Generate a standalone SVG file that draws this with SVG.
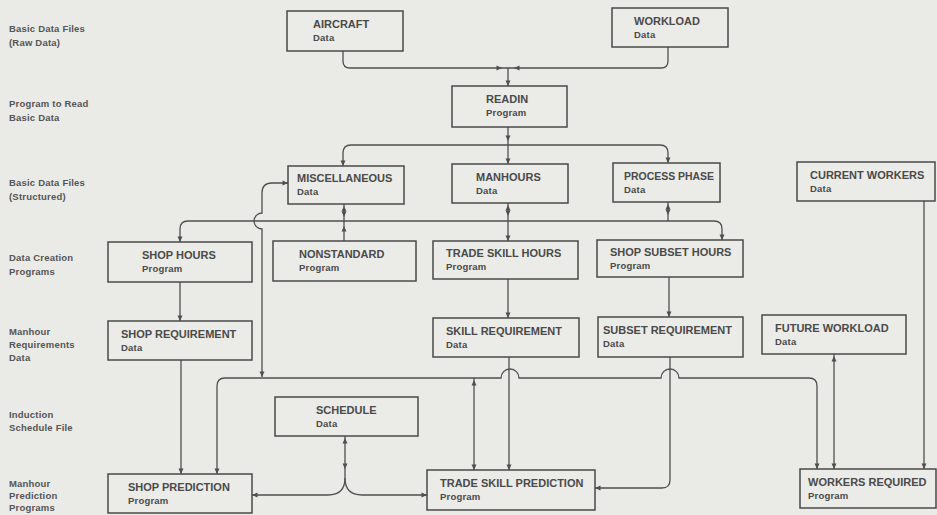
<svg xmlns="http://www.w3.org/2000/svg" xmlns:xlink="http://www.w3.org/1999/xlink" width="937" height="515" viewBox="0 0 937 515">
<defs>
<style>
.bg{fill:#eaeae6}
.box{fill:#ebebe7;stroke:#4a4a4a;stroke-width:1.5}
.t{font-family:"Liberation Sans",Arial,sans-serif;font-weight:bold;font-size:11px;fill:#4a4a4a}
.s{font-family:"Liberation Sans",Arial,sans-serif;font-weight:bold;font-size:9.5px;fill:#4a4a4a;letter-spacing:0.2px}
.lab{font-family:"Liberation Sans",Arial,sans-serif;font-weight:bold;font-size:9.5px;fill:#555;letter-spacing:0.2px}
.ln{fill:none;stroke:#4f4f4f;stroke-width:1.3}
.ah{fill:#4f4f4f}
</style>
<path id="aD" class="ah" d="M-2.5,-5.5 L2.5,-5.5 L0,0 Z"/>
<path id="aU" class="ah" d="M-2.5,5.5 L2.5,5.5 L0,0 Z"/>
<path id="aR" class="ah" d="M-5.5,-2.5 L-5.5,2.5 L0,0 Z"/>
<path id="aL" class="ah" d="M5.5,-2.5 L5.5,2.5 L0,0 Z"/>
</defs>
<rect class="bg" x="0" y="0" width="937" height="515"/>

<g id="labels">
<text class="lab" x="9" y="32">Basic Data Files</text>
<text class="lab" x="9" y="46">(Raw Data)</text>
<text class="lab" x="9" y="107">Program to Read</text>
<text class="lab" x="9" y="121">Basic Data</text>
<text class="lab" x="9" y="186">Basic Data Files</text>
<text class="lab" x="9" y="200">(Structured)</text>
<text class="lab" x="9" y="261">Data Creation</text>
<text class="lab" x="9" y="275">Programs</text>
<text class="lab" x="9" y="335">Manhour</text>
<text class="lab" x="9" y="348">Requirements</text>
<text class="lab" x="9" y="361">Data</text>
<text class="lab" x="9" y="418">Induction</text>
<text class="lab" x="9" y="431">Schedule File</text>
<text class="lab" x="9" y="487">Manhour</text>
<text class="lab" x="9" y="499">Prediction</text>
<text class="lab" x="9" y="511">Programs</text>
</g>

<g id="connectors">
<!-- raw data to READIN -->
<path class="ln" d="M343,51 V61 Q343,68 350,68 H661 Q668,68 668,61 V47"/>
<path class="ln" d="M508,68 V86"/>
<use href="#aR" x="502" y="68"/>
<use href="#aL" x="514" y="68"/>
<use href="#aD" x="508" y="86"/>
<!-- READIN to structured files -->
<path class="ln" d="M343,166 V153 Q343,145 351,145 H660 Q668,145 668,153 V163"/>
<path class="ln" d="M508,127 V164"/>
<use href="#aD" x="508" y="141"/>
<use href="#aD" x="343" y="166"/>
<use href="#aD" x="508" y="164"/>
<use href="#aD" x="668" y="163"/>
<!-- bus y 221 -->
<path class="ln" d="M180,242 V229 Q180,221 188,221 H714 Q722,221 722,229 V240"/>
<use href="#aD" x="180" y="242"/>
<use href="#aD" x="722" y="240"/>
<path class="ln" d="M344,204 V241"/>
<use href="#aU" x="344" y="206"/>
<use href="#aD" x="344" y="217"/>
<use href="#aU" x="344" y="226"/>
<path class="ln" d="M508,203 V241"/>
<use href="#aU" x="508" y="205"/>
<use href="#aD" x="508" y="216"/>
<use href="#aD" x="508" y="241"/>
<path class="ln" d="M668,202 V221"/>
<use href="#aU" x="668" y="204"/>
<use href="#aD" x="668" y="215"/>
<!-- misc side line -->
<path class="ln" d="M262,377 V229 A8,8 0 0 1 262,213 V193 Q262,183 272,183 H288"/>
<use href="#aR" x="288" y="183"/>
<use href="#aD" x="262" y="377"/>
<!-- programs to requirements -->
<path class="ln" d="M180,282 V321"/>
<use href="#aD" x="180" y="321"/>
<path class="ln" d="M508,279 V318"/>
<use href="#aD" x="508" y="318"/>
<path class="ln" d="M669,277 V317"/>
<use href="#aD" x="669" y="317"/>
<!-- requirements to predictions -->
<path class="ln" d="M181,360 V474"/>
<use href="#aD" x="181" y="474"/>
<path class="ln" d="M217,474 V386 Q217,378 225,378 H501 A9,9 0 0 1 519,378 H661 A9,9 0 0 1 679,378 H809 Q817,378 817,386 V469"/>
<use href="#aD" x="217" y="474"/>
<use href="#aD" x="817" y="469"/>
<path class="ln" d="M474,378 V470"/>
<use href="#aU" x="474" y="380"/>
<use href="#aD" x="474" y="470"/>
<path class="ln" d="M509,357 V470"/>
<use href="#aD" x="509" y="470"/>
<path class="ln" d="M670,357 V480 Q670,488 662,488 H595"/>
<use href="#aL" x="595" y="488"/>
<!-- schedule -->
<path class="ln" d="M345,436 V478 Q345,495 328,495 H252"/>
<path class="ln" d="M345,478 Q345,495 362,495 H427"/>
<use href="#aU" x="345" y="438"/>
<use href="#aD" x="345" y="469"/>
<use href="#aL" x="252" y="495"/>
<use href="#aR" x="427" y="495"/>
<!-- workers -->
<path class="ln" d="M834,354 V469"/>
<use href="#aU" x="834" y="356"/>
<use href="#aD" x="834" y="469"/>
<path class="ln" d="M924,201 V469"/>
<use href="#aD" x="924" y="469"/>
</g>

<g id="aircraft"><rect class="box" x="287" y="11" width="116" height="40"/><text class="t" x="313" y="28">AIRCRAFT</text><text class="s" x="313" y="41">Data</text></g>
<g id="workload"><rect class="box" x="612" y="8" width="116" height="39"/><text class="t" x="634" y="25">WORKLOAD</text><text class="s" x="634" y="38">Data</text></g>
<g id="readin"><rect class="box" x="452" y="86" width="115" height="41"/><text class="t" x="486" y="103">READIN</text><text class="s" x="486" y="116">Program</text></g>
<g id="miscellaneous"><rect class="box" x="288" y="166" width="116" height="38"/><text class="t" x="297" y="182">MISCELLANEOUS</text><text class="s" x="297" y="195">Data</text></g>
<g id="manhours"><rect class="box" x="452" y="164" width="116" height="39"/><text class="t" x="476" y="181">MANHOURS</text><text class="s" x="476" y="194">Data</text></g>
<g id="process-phase"><rect class="box" x="613" y="163" width="107" height="39"/><text class="t" x="624" y="180" textLength="90" lengthAdjust="spacingAndGlyphs">PROCESS PHASE</text><text class="s" x="624" y="193">Data</text></g>
<g id="current-workers"><rect class="box" x="797" y="162" width="138" height="39"/><text class="t" x="810" y="179">CURRENT WORKERS</text><text class="s" x="810" y="192">Data</text></g>
<g id="shop-hours"><rect class="box" x="108" y="242" width="144" height="40"/><text class="t" x="142" y="259">SHOP HOURS</text><text class="s" x="142" y="272">Program</text></g>
<g id="nonstandard"><rect class="box" x="273" y="241" width="143" height="40"/><text class="t" x="299" y="258">NONSTANDARD</text><text class="s" x="299" y="271">Program</text></g>
<g id="trade-skill-hours"><rect class="box" x="433" y="241" width="145" height="38"/><text class="t" x="446" y="257">TRADE SKILL HOURS</text><text class="s" x="446" y="270">Program</text></g>
<g id="shop-subset-hours"><rect class="box" x="597" y="240" width="146" height="37"/><text class="t" x="610" y="256">SHOP SUBSET HOURS</text><text class="s" x="610" y="269">Program</text></g>
<g id="shop-requirement"><rect class="box" x="108" y="321" width="144" height="39"/><text class="t" x="121" y="338">SHOP REQUIREMENT</text><text class="s" x="121" y="351">Data</text></g>
<g id="skill-requirement"><rect class="box" x="433" y="318" width="146" height="39"/><text class="t" x="446" y="335">SKILL REQUIREMENT</text><text class="s" x="446" y="348">Data</text></g>
<g id="subset-requirement"><rect class="box" x="598" y="317" width="145" height="40"/><text class="t" x="603" y="334">SUBSET REQUIREMENT</text><text class="s" x="603" y="347">Data</text></g>
<g id="future-workload"><rect class="box" x="762" y="315" width="144" height="39"/><text class="t" x="775" y="332">FUTURE WORKLOAD</text><text class="s" x="775" y="345">Data</text></g>
<g id="schedule"><rect class="box" x="275" y="397" width="143" height="39"/><text class="t" x="316" y="414">SCHEDULE</text><text class="s" x="316" y="427">Data</text></g>
<g id="shop-prediction"><rect class="box" x="108" y="474" width="144" height="39"/><text class="t" x="128" y="491">SHOP PREDICTION</text><text class="s" x="128" y="504">Program</text></g>
<g id="trade-skill-prediction"><rect class="box" x="427" y="470" width="168" height="40"/><text class="t" x="440" y="487">TRADE SKILL PREDICTION</text><text class="s" x="440" y="500">Program</text></g>
<g id="workers-required"><rect class="box" x="800" y="469" width="136" height="39"/><text class="t" x="808" y="486">WORKERS REQUIRED</text><text class="s" x="808" y="499">Program</text></g>
</svg>
